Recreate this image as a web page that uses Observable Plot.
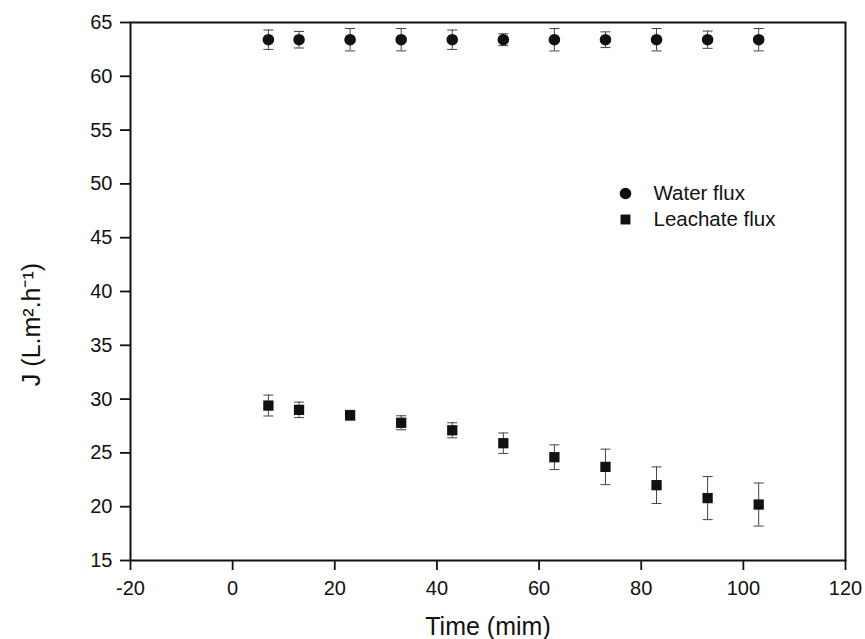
<!DOCTYPE html>
<html>
<head>
<meta charset="utf-8">
<script src="https://cdn.jsdelivr.net/npm/d3@7"></script>
<script src="https://cdn.jsdelivr.net/npm/@observablehq/plot@0.6"></script>
<style>
  html, body { margin: 0; padding: 0; background: #fff; }
  #chart svg { display: block; }
</style>
</head>
<body>
<div id="chart"></div>
<script>
// ---- data ----
const time = [7, 13, 23, 33, 43, 53, 63, 73, 83, 93, 103];
const waterFlux = [63.4, 63.4, 63.4, 63.4, 63.4, 63.4, 63.4, 63.4, 63.4, 63.4, 63.4];
const waterErr  = [0.9, 0.77, 1.04, 1.04, 0.9, 0.55, 1.04, 0.73, 1.04, 0.8, 1.04];
const leachateFlux = [29.4, 29.0, 28.5, 27.8, 27.1, 25.9, 24.6, 23.7, 22.0, 20.8, 20.2];
const leachateErr  = [0.97, 0.72, 0.45, 0.65, 0.7, 0.95, 1.15, 1.65, 1.7, 2.0, 2.0];
const seriesNames = ["Water flux", "Leachate flux"];
const seriesSymbols = ["circle", "square"];
const xTicks = [-20, 0, 20, 40, 60, 80, 100, 120];
const yTicks = [15, 20, 25, 30, 35, 40, 45, 50, 55, 60, 65];
const xLabel = "Time (mim)";
const yLabel = "J (L.m\u00B2.h\u207B\u00B9)";

const rows = [];
[[waterFlux, waterErr], [leachateFlux, leachateErr]].forEach(([vals, errs], s) => {
  time.forEach((t, i) => rows.push({series: seriesNames[s], symbol: seriesSymbols[s], t, v: vals[i], lo: vals[i] - errs[i], hi: vals[i] + errs[i]}));
});

const capSymbol = {
  draw(ctx, size) {
    const r = Math.sqrt(size / Math.PI);
    ctx.moveTo(-r, 0);
    ctx.lineTo(r, 0);
  }
};

const font = "'Liberation Sans', Arial, Helvetica, sans-serif";
const ink = "#111";
const errInk = "#444";

const legendMarks = [];
seriesNames.forEach((name, i) => {
  legendMarks.push(Plot.dot([name], {frameAnchor: "top-left", dx: 495, dy: 171 + i * 26, symbol: seriesSymbols[i], r: i === 0 ? 5.8 : 5.6, fill: ink, stroke: "none"}));
  legendMarks.push(Plot.text([name], {frameAnchor: "top-left", dx: 523, dy: 171 + i * 26, text: d => d, textAnchor: "start", lineAnchor: "middle", fontSize: 20.5, fill: ink}));
});

const chart = Plot.plot({
  width: 865,
  height: 639,
  marginLeft: 130,
  marginRight: 20,
  marginTop: 22,
  marginBottom: 79,
  style: {fontFamily: font, background: "#fff", color: ink},
  x: {domain: [-20, 120]},
  y: {domain: [15, 65]},
  symbol: {domain: seriesNames, range: seriesSymbols},
  marks: [
    Plot.axisX({ticks: xTicks, tickFormat: d => String(d), tickSize: 10, tickPadding: 10, strokeWidth: 1.8, stroke: ink, fontSize: 20, label: null}),
    Plot.axisY({ticks: yTicks, tickFormat: d => String(d), tickSize: 10, tickPadding: 8, strokeWidth: 1.8, stroke: ink, fontSize: 20, label: null}),
    Plot.ruleX(rows, {x: "t", y1: "lo", y2: "hi", stroke: errInk, strokeWidth: 1}),
    Plot.dot(rows, {x: "t", y: "lo", symbol: () => capSymbol, r: 5, fill: "none", stroke: errInk, strokeWidth: 1}),
    Plot.dot(rows, {x: "t", y: "hi", symbol: () => capSymbol, r: 5, fill: "none", stroke: errInk, strokeWidth: 1}),
    Plot.dot(rows, {x: "t", y: "v", symbol: "series", r: 5.8, fill: ink, stroke: "none"}),
    Plot.frame({stroke: ink, strokeWidth: 2}),
    ...legendMarks,
    Plot.text([xLabel], {frameAnchor: "bottom", dy: 66, text: d => d, textAnchor: "middle", lineAnchor: "middle", fontSize: 25, fill: ink}),
    Plot.text([yLabel], {frameAnchor: "left", dx: -99, dy: 33, rotate: -90, text: d => d, textAnchor: "middle", lineAnchor: "middle", fontSize: 25, fill: ink})
  ]
});
document.getElementById("chart").appendChild(chart);
</script>
</body>
</html>
